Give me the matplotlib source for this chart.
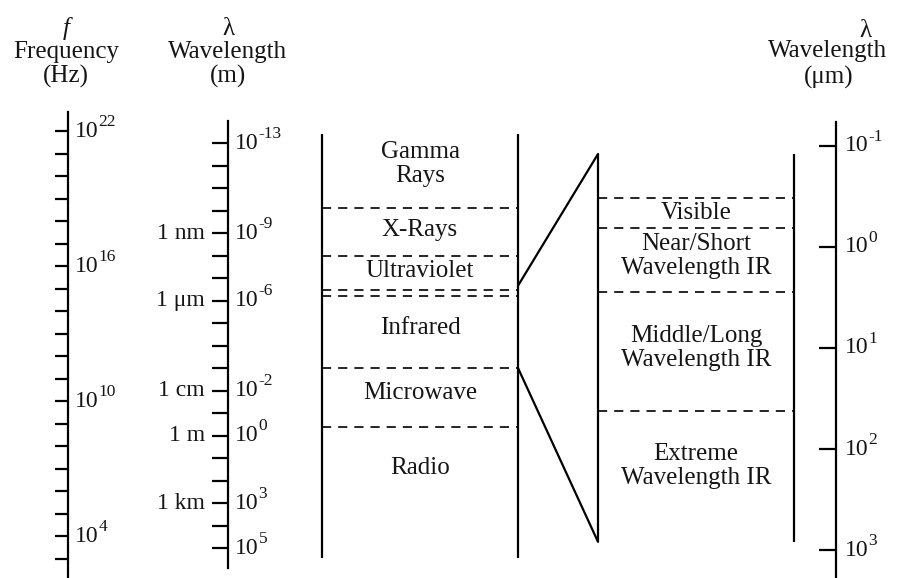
import matplotlib
matplotlib.use("Agg")
import matplotlib.pyplot as plt
from matplotlib.patches import ConnectionPatch

plt.rcParams['font.family'] = ['Liberation Serif', 'DejaVu Serif']

INK = '#151515'
C = 3e8  # speed of light, m/s

# frequency scale (Hz): one tick per decade, labels every sixth
freq_ticks_hz = [10.0 ** k for k in range(22, 2, -1)]
freq_label_exp = [22, 16, 10, 4]
freq_axis_hz = [7e22, 1e2]

# wavelength scale (m)
wl_ticks_m = [10.0 ** k for k in range(-13, 6)]
wl_label_exp = [-13, -9, -6, -2, 0, 3, 5]
wl_unit_exp = [-9, -6, -2, 0, 3]
wl_unit_names = ['1 nm', '1 \u03bcm', '1 cm', '1 m', '1 km']
wl_axis_m = [1e-14, 7.8e5]

# main spectrum bands, edges in metres (visible band left unlabeled)
bands = ['Gamma\nRays', 'X-Rays', 'Ultraviolet', '', 'Infrared', 'Microwave', 'Radio']
band_edges_m = [4e-14, 8e-11, 1e-8, 3.3e-7, 6.5e-7, 1e-3, 0.4, 2.8e5]
band_text_m = [8.5e-13, 7.4e-10, 4.9e-8, None, 1.7e-5, 0.013, 28]

# expanded infrared detail, edges in micrometres
ir_bands = ['', 'Visible', 'Near/Short\nWavelength IR', 'Middle/Long\nWavelength IR',
            'Extreme\nWavelength IR']
ir_edges_um = [0.12, 0.33, 0.65, 2.8, 42, 830]
ir_text_um = [None, 0.46, 1.23, 10, 148]

um_ticks = [10.0 ** k for k in range(-1, 4)]
um_label_exp = [-1, 0, 1, 2, 3]
um_axis = [0.058, 3000]

# wavelengths joined by the two zoom lines
zoom_from_m = [2.2e-7, 1e-3]
zoom_to_um = [0.12, 830]

fig = plt.figure(figsize=(8.98, 5.78), dpi=100)
ax = fig.add_axes([0, 0, 1, 1])
ax.set_xlim(0, 898)
ax.set_yscale('log')
ax.set_ylim(10 ** 6.3333, 10 ** -19.3556)
ax.axis('off')

ax_um = fig.add_axes([0, 0, 1, 1])
ax_um.set_xlim(0, 898)
ax_um.set_yscale('log')
ax_um.set_ylim(10 ** 3.2772, 10 ** -2.4455)
ax_um.axis('off')

LW = 1.6
DASH = (0, (5.5, 4.2))
BASE = 17
SUP = 12.5
LABEL = 18
LSP = 1.12


def power_label(a, x, y, exp):
    a.text(x, y, '10', fontsize=BASE, ha='left', va='center', color=INK)
    a.annotate(str(exp), (x, y), xytext=(BASE, 6.5), textcoords='offset points',
               fontsize=SUP, ha='left', va='center', color=INK)


def header(x, lines, ys):
    for s, y in zip(lines, ys):
        fig.text(x / 898, 1 - y / 578, s, fontsize=LABEL, ha='center', va='center',
                 color=INK, style='italic' if s == 'f' else 'normal')


# frequency axis
fx = 68
ax.plot([fx, fx], [C / f for f in freq_axis_hz], color='k', lw=LW)
ax.hlines([C / f for f in freq_ticks_hz], fx - 13, fx, color='k', lw=LW)
for e in freq_label_exp:
    power_label(ax, 75, C / 10.0 ** e, e)
header(66, ['f', 'Frequency', '(Hz)'], [29, 52, 76])

# wavelength axis (m)
wx = 228
ax.plot([wx, wx], wl_axis_m, color='k', lw=LW)
ax.hlines(wl_ticks_m, wx - 16, wx, color='k', lw=LW)
for e in wl_label_exp:
    power_label(ax, 235, 10.0 ** e, e)
for e, name in zip(wl_unit_exp, wl_unit_names):
    ax.text(205, 10.0 ** e, name, fontsize=BASE, ha='right', va='center', color=INK)
header(228, ['\u03bb', 'Wavelength', '(m)'], [29, 52, 76])

# spectrum column
bl, br = 322, 518
ax.vlines([bl, br], band_edges_m[0], band_edges_m[-1], color='k', lw=LW)
ax.hlines(band_edges_m[1:-1], bl, br, color='k', lw=1.2, linestyles=[DASH])
for name, y in zip(bands, band_text_m):
    if name:
        ax.text((bl + br) / 2, y, name, fontsize=LABEL, ha='center', va='center',
                color=INK, linespacing=LSP)

# infrared detail column
il, ir = 598, 794
ax_um.vlines([il, ir], ir_edges_um[0], ir_edges_um[-1], color='k', lw=LW)
ax_um.hlines(ir_edges_um[1:-1], il, ir, color='k', lw=1.2, linestyles=[DASH])
for name, y in zip(ir_bands, ir_text_um):
    if name:
        ax_um.text((il + ir) / 2, y, name, fontsize=LABEL, ha='center', va='center',
                   color=INK, linespacing=LSP)

# zoom lines between the columns
for m, um in zip(zoom_from_m, zoom_to_um):
    con = ConnectionPatch(xyA=(br, m), coordsA=ax.transData,
                          xyB=(il, um), coordsB=ax_um.transData,
                          color='k', lw=LW)
    fig.add_artist(con)

# wavelength axis (um)
ux = 836
ax_um.plot([ux, ux], um_axis, color='k', lw=LW)
ax_um.hlines(um_ticks, ux - 17, ux, color='k', lw=LW)
for e in um_label_exp:
    power_label(ax_um, 845, 10.0 ** e, e)
fig.text(865 / 898, 1 - 31 / 578, '\u03bb', fontsize=LABEL, ha='center', va='center', color=INK)
fig.text(828 / 898, 1 - 51 / 578, 'Wavelength', fontsize=LABEL, ha='center', va='center', color=INK)
fig.text(829 / 898, 1 - 77 / 578, '(\u03bcm)', fontsize=LABEL, ha='center', va='center', color=INK)

fig.savefig('out.png', dpi=100)
